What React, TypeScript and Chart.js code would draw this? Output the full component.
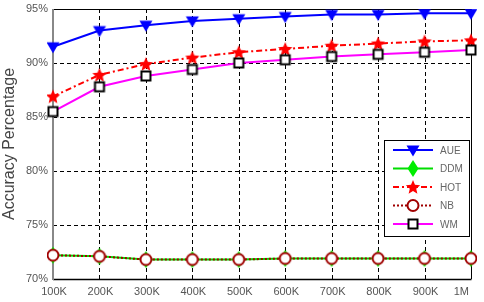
import React, { useEffect, useRef } from 'react';
import { Chart, registerables } from 'chart.js';
Chart.register(...registerables);

const categories = ['100K', '200K', '300K', '400K', '500K', '600K', '700K', '800K', '900K', '1M'];
const aue = [91.5, 93.0, 93.5, 93.9, 94.1, 94.3, 94.5, 94.5, 94.6, 94.6];
const ddm = [72.2, 72.1, 71.8, 71.8, 71.8, 71.9, 71.9, 71.9, 71.9, 71.9];
const hot = [86.9, 88.9, 89.9, 90.5, 91.0, 91.3, 91.6, 91.8, 92.0, 92.1];
const nb = [72.2, 72.1, 71.8, 71.8, 71.8, 71.9, 71.9, 71.9, 71.9, 71.9];
const wm = [85.5, 87.8, 88.8, 89.4, 90.0, 90.3, 90.6, 90.8, 91.0, 91.2];
const seriesNames = ['AUE', 'DDM', 'HOT', 'NB', 'WM'];
const yMin = 70;
const yMax = 95;
const yStep = 5;

const FONT = 'Arial, "Liberation Sans", sans-serif';

function starPath(ctx: CanvasRenderingContext2D, cx: number, cy: number, R: number) {
  const r = R * 0.45;
  ctx.beginPath();
  for (let i = 0; i < 10; i++) {
    const rad = i % 2 === 0 ? R : r;
    const a = -Math.PI / 2 + (i * Math.PI) / 5;
    const x = cx + rad * Math.cos(a);
    const y = cy + rad * Math.sin(a);
    if (i === 0) ctx.moveTo(x, y);
    else ctx.lineTo(x, y);
  }
  ctx.closePath();
}

type Marker = 'tri' | 'diamond' | 'star' | 'circle' | 'square';

function drawMarker(ctx: CanvasRenderingContext2D, kind: Marker, x: number, y: number) {
  ctx.save();
  ctx.setLineDash([]);
  if (kind === 'tri') {
    ctx.fillStyle = '#0000ff';
    ctx.beginPath();
    ctx.moveTo(x - 6.5, y - 4.5);
    ctx.lineTo(x + 6.5, y - 4.5);
    ctx.lineTo(x, y + 6.5);
    ctx.closePath();
    ctx.fill();
  } else if (kind === 'diamond') {
    ctx.fillStyle = '#00ee00';
    ctx.beginPath();
    ctx.moveTo(x, y - 8.5);
    ctx.lineTo(x + 5.5, y);
    ctx.lineTo(x, y + 8.5);
    ctx.lineTo(x - 5.5, y);
    ctx.closePath();
    ctx.fill();
  } else if (kind === 'star') {
    ctx.fillStyle = '#ff0000';
    starPath(ctx, x, y + 0.6, 7.5);
    ctx.fill();
  } else if (kind === 'circle') {
    ctx.fillStyle = '#ffffff';
    ctx.strokeStyle = '#a00000';
    ctx.lineWidth = 2;
    ctx.beginPath();
    ctx.arc(x, y, 5.5, 0, Math.PI * 2);
    ctx.fill();
    ctx.stroke();
  } else {
    ctx.fillStyle = '#ffffff';
    ctx.strokeStyle = '#000000';
    ctx.lineWidth = 2;
    ctx.fillRect(x - 4.5, y - 4.5, 9, 9);
    ctx.strokeRect(x - 4.5, y - 4.5, 9, 9);
  }
  ctx.restore();
}

const markers: Marker[] = ['tri', 'diamond', 'star', 'circle', 'square'];

const framePlugin = {
  id: 'frame',
  beforeDatasetsDraw(chart: any) {
    const { ctx, chartArea } = chart;
    const xs = chart.scales.x;
    const ys = chart.scales.y;
    ctx.save();
    ctx.strokeStyle = '#000';
    ctx.lineWidth = 1;
    ctx.setLineDash([4, 3]);
    for (let i = 1; i < xs.ticks.length - 1; i++) {
      const x = Math.round(xs.getPixelForTick(i)) + 0.5;
      ctx.beginPath();
      ctx.moveTo(x, chartArea.top);
      ctx.lineTo(x, chartArea.bottom);
      ctx.stroke();
    }
    ys.ticks.forEach((t: any) => {
      if (t.value === yMin || t.value === yMax) return;
      const y = Math.round(ys.getPixelForValue(t.value)) + 0.5;
      ctx.beginPath();
      ctx.moveTo(chartArea.left, y);
      ctx.lineTo(chartArea.right, y);
      ctx.stroke();
    });
    ctx.setLineDash([]);
    ctx.beginPath();
    ctx.moveTo(chartArea.left, chartArea.top + 0.5);
    ctx.lineTo(chartArea.right + 0.5, chartArea.top + 0.5);
    ctx.lineTo(chartArea.right + 0.5, chartArea.bottom);
    ctx.stroke();
    ctx.lineWidth = 1.5;
    ctx.beginPath();
    ctx.moveTo(chartArea.left, chartArea.bottom + 0.5);
    ctx.lineTo(chartArea.right + 0.5, chartArea.bottom + 0.5);
    ctx.stroke();
    ctx.strokeStyle = '#888';
    ctx.lineWidth = 2;
    ctx.beginPath();
    ctx.moveTo(chartArea.left, chartArea.top);
    ctx.lineTo(chartArea.left, chartArea.bottom + 1);
    ctx.stroke();

    ctx.fillStyle = '#555';
    ctx.font = `11px ${FONT}`;
    ctx.textBaseline = 'top';
    xs.ticks.forEach((_t: any, i: number) => {
      const x = xs.getPixelForTick(i);
      const last = i === xs.ticks.length - 1;
      ctx.textAlign = last ? 'right' : 'center';
      ctx.fillText(categories[i], last ? x - 2 : x + 1, chartArea.bottom + 7);
    });
    ctx.restore();
  },
};

const legendPlugin = {
  id: 'boxLegend',
  afterDatasetsDraw(chart: any) {
    const { ctx, chartArea } = chart;
    const x0 = chartArea.right - 87;
    const y0 = chartArea.top + 131;
    const w = 85;
    const h = 96;
    ctx.save();
    ctx.fillStyle = '#fff';
    ctx.fillRect(x0, y0, w, h);
    ctx.strokeStyle = '#000';
    ctx.lineWidth = 1;
    ctx.strokeRect(x0 + 0.5, y0 + 0.5, w, h);
    const rowH = 18.5;
    chart.data.datasets.forEach((ds: any, i: number) => {
      const cy = y0 + 10 + i * rowH;
      ctx.save();
      ctx.strokeStyle = ds.borderColor;
      ctx.lineWidth = ds.borderWidth;
      ctx.setLineDash(ds.borderDash || []);
      ctx.beginPath();
      ctx.moveTo(x0 + 9, cy);
      ctx.lineTo(x0 + 49, cy);
      ctx.stroke();
      ctx.restore();
      drawMarker(ctx, markers[i], x0 + 29, cy);
      ctx.fillStyle = '#666';
      ctx.font = `10px ${FONT}`;
      ctx.textBaseline = 'middle';
      ctx.textAlign = 'left';
      ctx.fillText(ds.label, x0 + 56, cy + 1);
    });
    ctx.restore();
  },
};

export default function App() {
  const ref = useRef<HTMLCanvasElement>(null);
  useEffect(() => {
    const mkImg = (kind: Marker) => {
      const c = document.createElement('canvas');
      c.width = 20;
      c.height = 20;
      const cx = c.getContext('2d')!;
      drawMarker(cx, kind, 10, 10);
      return c;
    };
    const chart = new Chart(ref.current!, {
      type: 'line',
      data: {
        labels: categories,
        datasets: [
          { label: seriesNames[0], data: aue, order: 4, borderColor: '#0000ff', borderWidth: 2, pointStyle: mkImg('tri') as any },
          { label: seriesNames[1], data: ddm, order: 3, borderColor: '#00dd00', borderWidth: 2, pointStyle: mkImg('diamond') as any },
          { label: seriesNames[2], data: hot, order: 2, borderColor: '#ff0000', borderWidth: 2, borderDash: [6, 3, 2, 3], pointStyle: mkImg('star') as any },
          { label: seriesNames[3], data: nb, order: 1, borderColor: '#a00000', borderWidth: 2, borderDash: [2, 2], pointStyle: mkImg('circle') as any },
          { label: seriesNames[4], data: wm, order: 0, borderColor: '#ff00ff', borderWidth: 2, pointStyle: mkImg('square') as any },
        ],
      },
      options: {
        animation: false,
        responsive: false,
        devicePixelRatio: 1,
        layout: { padding: { top: 9, right: 13, left: 0, bottom: 0 } },
        plugins: { legend: { display: false }, tooltip: { enabled: false } },
        elements: { line: { tension: 0, fill: false } },
        scales: {
          x: {
            offset: false,
            grid: { display: false, drawTicks: false } as any,
            border: { display: false } as any,
            ticks: { display: false, autoSkip: false },
            afterFit(scale: any) {
              scale.height = 23;
            },
          },
          y: {
            min: yMin,
            max: yMax,
            grid: { display: false, drawTicks: false } as any,
            border: { display: false } as any,
            ticks: {
              stepSize: yStep,
              color: '#555',
              font: { family: FONT, size: 11 },
              padding: 5,
              callback: (v: any) => `${v}%`,
            },
            title: {
              display: true,
              text: 'Accuracy Percentage',
              color: '#444',
              font: { family: FONT, size: 16 },
              padding: { top: 0, bottom: 0 },
            },
            afterFit(scale: any) {
              scale.width = 53;
              scale.paddingTop = 0;
              scale.paddingBottom = 0;
            },
          },
        },
      },
      plugins: [framePlugin, legendPlugin],
    });
    return () => chart.destroy();
  }, []);
  return (
    <div style={{ position: 'absolute', left: 0, top: 0, width: 484, height: 302, background: '#fff' }}>
      <canvas ref={ref} width={484} height={302} style={{ width: 484, height: 302 }} />
    </div>
  );
}
